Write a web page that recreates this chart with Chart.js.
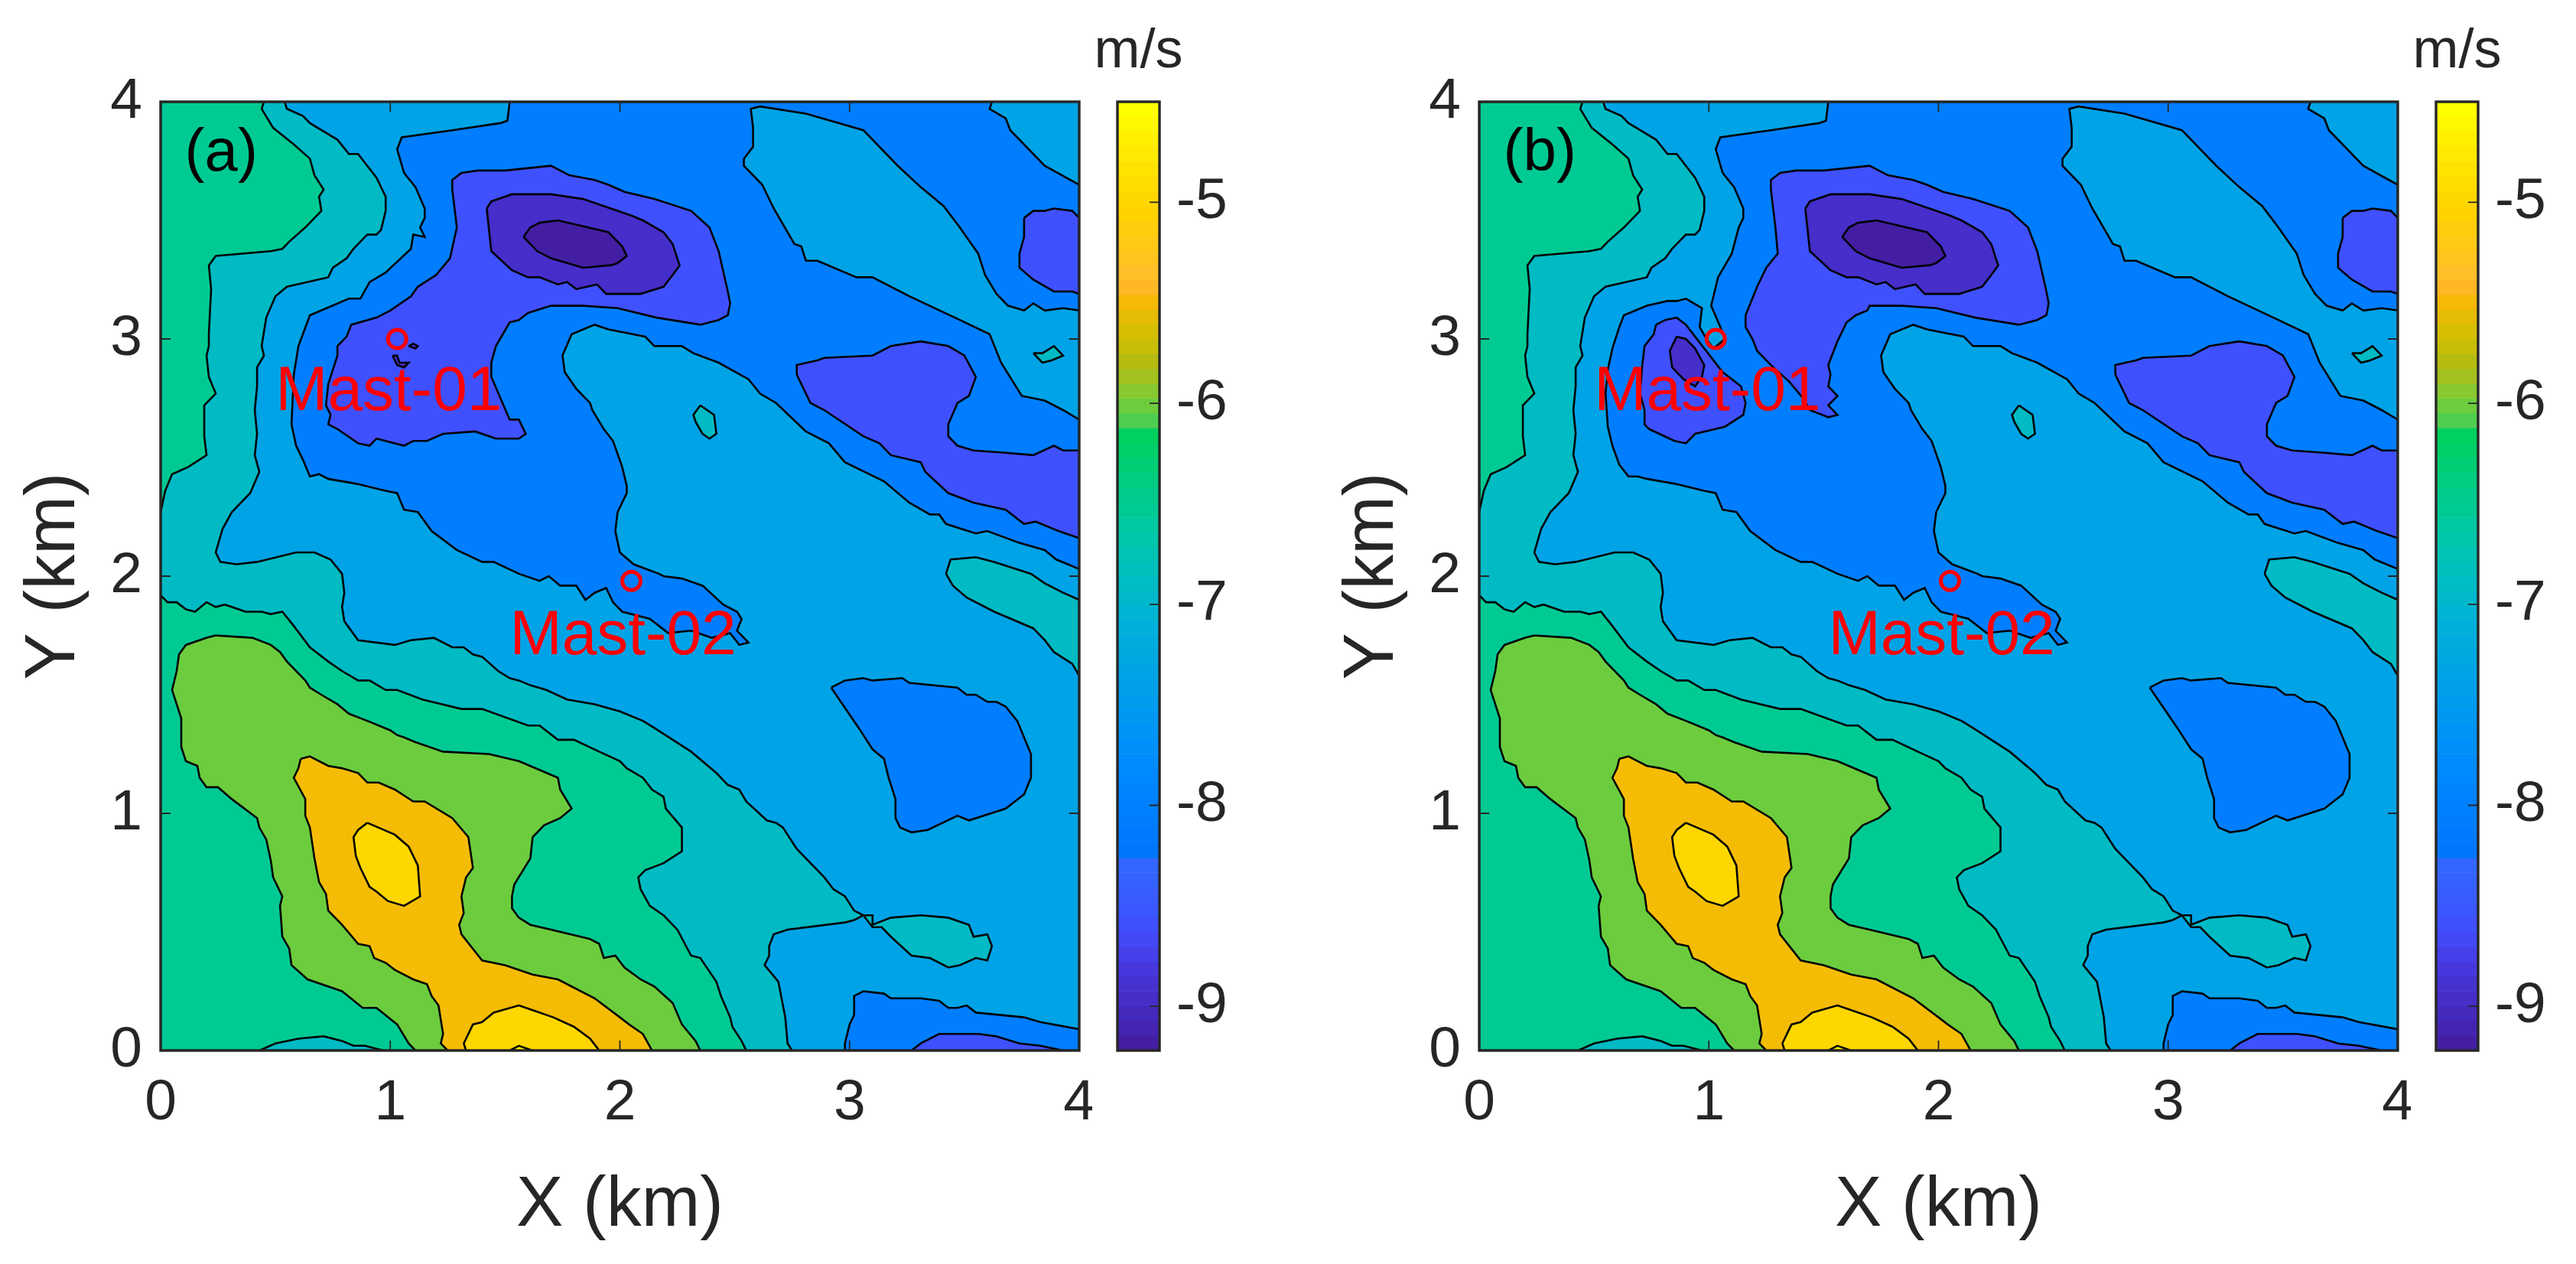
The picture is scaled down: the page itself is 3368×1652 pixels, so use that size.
<!DOCTYPE html>
<html lang="en">
<head>
<meta charset="UTF-8">
<title>Wind speed contours</title>
<script src="https://cdn.jsdelivr.net/npm/chart.js"></script>
<style>
  html, body { margin: 0; padding: 0; background: #fff; overflow: hidden; }
  body { width: 3368px; height: 1652px; position: relative; }
  canvas { position: absolute; top: 0; }
  #panelA { left: 0; }
  #barA { left: 1420px; }
  #panelB { left: 1724px; }
  #barB { left: 3144px; }
</style>
</head>
<body>
<canvas id="panelA" width="1428" height="1652"></canvas>
<canvas id="barA" width="224" height="1652"></canvas>
<canvas id="panelB" width="1428" height="1652"></canvas>
<canvas id="barB" width="224" height="1652"></canvas>

<script>
// contour outlines, [x km, y km]
const tealMain = [[0.54,4],[0.55,3.97],[0.62,3.94],[0.65,3.91],[0.77,3.84],[0.82,3.78],[0.86,3.78],[0.90,3.73],[0.94,3.68],[0.98,3.60],[0.98,3.54],[0.96,3.46],[0.94,3.44],[0.90,3.44],[0.84,3.38],[0.81,3.34],[0.75,3.30],[0.73,3.26],[0.55,3.22],[0.50,3.18],[0.46,3.09],[0.44,2.97],[0.45,2.93],[0.42,2.88],[0.42,2.80],[0.41,2.70],[0.42,2.60],[0.41,2.51],[0.43,2.44],[0.39,2.35],[0.31,2.27],[0.27,2.20],[0.24,2.10],[0.26,2.06],[0.33,2.05],[0.42,2.06],[0.59,2.10],[0.67,2.10],[0.74,2.07],[0.79,2.01],[0.80,1.93],[0.79,1.87],[0.80,1.81],[0.86,1.73],[1.02,1.71],[1.09,1.73],[1.19,1.74],[1.27,1.70],[1.32,1.70],[1.36,1.67],[1.40,1.66],[1.47,1.60],[1.52,1.57],[1.56,1.56],[1.61,1.54],[1.68,1.52],[1.77,1.48],[1.89,1.46],[2.00,1.43],[2.10,1.39],[2.15,1.36],[2.31,1.26],[2.42,1.17],[2.47,1.12],[2.52,1.10],[2.55,1.05],[2.64,0.97],[2.68,0.96],[2.71,0.94],[2.77,0.85],[2.89,0.73],[2.93,0.68],[2.98,0.65],[3.02,0.59],[3.06,0.57],[3.02,0.55],[2.98,0.54],[2.73,0.51],[2.67,0.49],[2.65,0.44],[2.65,0.40],[2.63,0.36],[2.69,0.29],[2.72,0.14],[2.73,0.03],[2.75,0],[0,0],[0,4]];
const tealLobe = [[3.06,0.57],[3.10,0.57],[3.10,0.53],[3.18,0.56],[3.31,0.57],[3.43,0.56],[3.52,0.53],[3.54,0.48],[3.60,0.49],[3.62,0.44],[3.60,0.38],[3.55,0.39],[3.48,0.36],[3.43,0.35],[3.35,0.39],[3.27,0.40],[3.18,0.48],[3.14,0.52],[3.10,0.52]];
const tealIslandA = [[2.35,2.72],[2.41,2.68],[2.42,2.60],[2.39,2.58],[2.36,2.60],[2.33,2.65],[2.32,2.68]];
const tealIslandB = [[3.80,2.94],[3.84,2.94],[3.89,2.97],[3.93,2.93],[3.88,2.91],[3.84,2.90]];
const tealRight = [[3.42,2.01],[3.44,2.07],[3.55,2.08],[3.63,2.06],[3.79,2.01],[3.85,1.97],[3.93,1.93],[4,1.90],[4,1.58],[3.97,1.63],[3.89,1.68],[3.85,1.73],[3.80,1.78],[3.63,1.85],[3.51,1.91],[3.45,1.96]];
const tealBottom = [[0.43,0],[0.50,0.03],[0.60,0.05],[0.71,0.06],[0.79,0.04],[0.84,0.02],[0.89,0.02],[0.97,0]];
const greenTop = [[0,4],[0.45,4],[0.44,3.97],[0.49,3.89],[0.58,3.82],[0.65,3.76],[0.67,3.69],[0.71,3.63],[0.69,3.60],[0.70,3.54],[0.63,3.47],[0.56,3.41],[0.53,3.38],[0.48,3.37],[0.24,3.35],[0.21,3.31],[0.22,3.21],[0.21,3.02],[0.21,2.97],[0.20,2.93],[0.21,2.84],[0.24,2.77],[0.19,2.72],[0.19,2.59],[0.20,2.51],[0.12,2.46],[0.05,2.43],[0.02,2.36],[0,2.27]];
const greenMain = [[0,1.92],[0.03,1.89],[0.07,1.89],[0.11,1.86],[0.15,1.85],[0.20,1.89],[0.24,1.87],[0.28,1.88],[0.37,1.85],[0.44,1.85],[0.48,1.84],[0.53,1.85],[0.58,1.79],[0.65,1.70],[0.73,1.64],[0.79,1.60],[0.86,1.56],[0.91,1.56],[0.98,1.52],[1.03,1.52],[1.14,1.48],[1.31,1.44],[1.40,1.44],[1.60,1.37],[1.65,1.37],[1.73,1.31],[1.80,1.31],[1.91,1.26],[2.00,1.22],[2.03,1.19],[2.10,1.15],[2.14,1.10],[2.19,1.07],[2.20,1.02],[2.27,0.94],[2.27,0.84],[2.19,0.79],[2.11,0.76],[2.08,0.73],[2.09,0.68],[2.13,0.61],[2.19,0.57],[2.25,0.51],[2.31,0.40],[2.35,0.39],[2.42,0.29],[2.44,0.23],[2.48,0.14],[2.49,0.10],[2.53,0.04],[2.55,0],[0,0]];
const limeMain = [[0.24,1.75],[0.40,1.74],[0.48,1.71],[0.52,1.68],[0.55,1.64],[0.63,1.56],[0.65,1.53],[0.70,1.50],[0.77,1.46],[0.82,1.42],[0.90,1.39],[1.00,1.35],[1.03,1.33],[1.06,1.32],[1.11,1.30],[1.23,1.26],[1.43,1.25],[1.56,1.22],[1.73,1.15],[1.74,1.10],[1.79,1.02],[1.74,0.98],[1.67,0.95],[1.62,0.90],[1.61,0.81],[1.54,0.70],[1.53,0.65],[1.53,0.60],[1.56,0.56],[1.61,0.53],[1.70,0.51],[1.87,0.47],[1.91,0.45],[1.93,0.39],[1.98,0.40],[2.02,0.35],[2.09,0.30],[2.15,0.27],[2.23,0.20],[2.27,0.11],[2.33,0.04],[2.35,0],[1.11,0],[1.08,0.03],[1.03,0.11],[0.94,0.18],[0.88,0.18],[0.79,0.25],[0.64,0.30],[0.57,0.36],[0.56,0.43],[0.53,0.48],[0.52,0.61],[0.53,0.65],[0.49,0.73],[0.48,0.80],[0.46,0.89],[0.43,0.94],[0.42,0.98],[0.31,1.06],[0.25,1.11],[0.20,1.11],[0.17,1.15],[0.16,1.20],[0.11,1.22],[0.09,1.28],[0.09,1.40],[0.05,1.52],[0.07,1.60],[0.08,1.67],[0.11,1.71],[0.20,1.74]];
const orangeMain = [[0.61,1.23],[0.65,1.24],[0.73,1.20],[0.79,1.19],[0.86,1.17],[0.90,1.13],[0.95,1.13],[1.02,1.10],[1.10,1.05],[1.15,1.05],[1.27,0.98],[1.34,0.90],[1.36,0.77],[1.33,0.73],[1.31,0.65],[1.32,0.58],[1.30,0.53],[1.31,0.49],[1.40,0.38],[1.50,0.36],[1.62,0.32],[1.73,0.30],[1.89,0.22],[2.00,0.14],[2.04,0.11],[2.10,0.07],[2.14,0],[1.25,0],[1.22,0.03],[1.23,0.07],[1.21,0.19],[1.18,0.23],[1.16,0.28],[1.10,0.30],[1.02,0.34],[0.98,0.37],[0.93,0.39],[0.91,0.44],[0.86,0.45],[0.79,0.53],[0.73,0.59],[0.72,0.66],[0.69,0.71],[0.67,0.81],[0.65,0.94],[0.63,0.99],[0.63,1.06],[0.58,1.15],[0.60,1.19]];
const yellowA = [[0.90,0.96],[1.02,0.91],[1.08,0.86],[1.12,0.78],[1.13,0.65],[1.06,0.61],[0.99,0.63],[0.94,0.67],[0.91,0.69],[0.87,0.77],[0.85,0.82],[0.84,0.90],[0.86,0.93]];
const yellowB = [[1.32,0.03],[1.36,0.11],[1.40,0.12],[1.45,0.16],[1.56,0.19],[1.62,0.17],[1.71,0.14],[1.80,0.10],[1.87,0.05],[1.91,0],[1.33,0]];
const yellowTip = [[1.52,0],[1.56,0.02],[1.62,0]];
const blueTop = [[1.52,4],[1.51,3.92],[1.48,3.91],[1.27,3.88],[1.05,3.85],[1.03,3.80],[1.06,3.70],[1.11,3.64],[1.15,3.55],[1.15,3.51],[1.13,3.47]];
const blueWestA = [[1.15,3.43],[1.10,3.44],[1.09,3.38],[0.98,3.28],[0.91,3.24],[0.87,3.17],[0.82,3.17],[0.65,3.10],[0.60,2.97],[0.58,2.85],[0.57,2.64],[0.59,2.55],[0.62,2.49],[0.65,2.42],[0.69,2.43]];
const blueWestB = [[1.10,3.36],[1.04,3.26],[1.01,3.14],[1.05,3.05],[1.07,3.00],[1.02,2.96],[0.99,3.00],[0.96,3.05],[0.97,3.13],[0.90,3.17],[0.86,3.16],[0.82,3.16],[0.73,3.14],[0.63,3.10],[0.61,3.05],[0.58,2.96],[0.56,2.87],[0.55,2.77],[0.56,2.63],[0.58,2.55],[0.61,2.47],[0.65,2.42],[0.69,2.42]];
const blueRest = [[0.73,2.41],[0.85,2.39],[0.98,2.36],[1.03,2.35],[1.06,2.28],[1.12,2.27],[1.18,2.19],[1.29,2.11],[1.40,2.06],[1.45,2.06],[1.56,2.01],[1.65,1.98],[1.69,2.00],[1.74,1.96],[1.81,1.96],[1.85,1.90],[1.89,1.93],[1.94,1.95],[1.97,1.89],[2.01,1.85],[2.13,1.82],[2.21,1.76],[2.31,1.77],[2.40,1.74],[2.48,1.76],[2.52,1.71],[2.56,1.72],[2.51,1.77],[2.53,1.82],[2.51,1.85],[2.45,1.88],[2.36,1.96],[2.27,1.99],[2.19,2.00],[2.17,2.01],[2.06,2.05],[2.00,2.10],[1.98,2.19],[1.99,2.27],[2.03,2.35],[2.03,2.38],[2.01,2.46],[1.97,2.57],[1.93,2.62],[1.88,2.70],[1.87,2.73],[1.81,2.79],[1.76,2.86],[1.75,2.93],[1.79,3.02],[1.89,3.06],[1.95,3.04],[2.11,3.01],[2.15,2.97],[2.27,2.97],[2.32,2.94],[2.43,2.90],[2.56,2.83],[2.61,2.77],[2.68,2.73],[2.81,2.61],[2.91,2.56],[2.98,2.48],[3.15,2.40],[3.26,2.31],[3.35,2.26],[3.39,2.26],[3.42,2.22],[3.55,2.18],[3.60,2.19],[3.74,2.14],[3.85,2.11],[3.90,2.07],[4,2.03],[4,2.66],[3.93,2.70],[3.85,2.74],[3.75,2.76],[3.66,2.90],[3.61,3.02],[3.48,3.08],[3.26,3.18],[3.10,3.26],[3.03,3.26],[2.86,3.33],[2.81,3.33],[2.79,3.39],[2.76,3.40],[2.67,3.55],[2.62,3.65],[2.54,3.73],[2.54,3.76],[2.58,3.81],[2.58,3.89],[2.57,3.97],[2.61,3.98],[2.81,3.95],[3.06,3.88],[3.21,3.73],[3.31,3.64],[3.41,3.56],[3.48,3.47],[3.56,3.36],[3.59,3.27],[3.64,3.19],[3.69,3.14],[3.76,3.12],[3.80,3.15],[3.85,3.12],[3.93,3.13],[4,3.12],[4,3.65],[3.85,3.73],[3.70,3.88],[3.68,3.93],[3.61,3.97],[3.62,4]];
const blueIsland = [[2.92,1.53],[2.98,1.56],[3.06,1.57],[3.10,1.56],[3.23,1.57],[3.26,1.55],[3.47,1.53],[3.51,1.50],[3.55,1.50],[3.60,1.47],[3.64,1.47],[3.68,1.45],[3.73,1.39],[3.79,1.25],[3.79,1.15],[3.76,1.08],[3.68,1.02],[3.52,0.97],[3.47,0.99],[3.34,0.93],[3.27,0.92],[3.22,0.94],[3.20,0.98],[3.20,1.06],[3.17,1.15],[3.15,1.23],[3.10,1.27],[3.04,1.36]];
const blueBottom = [[2.98,0],[2.98,0.03],[3.00,0.11],[3.02,0.15],[3.02,0.23],[3.06,0.25],[3.15,0.24],[3.18,0.22],[3.31,0.22],[3.39,0.21],[3.43,0.18],[3.47,0.18],[3.51,0.19],[3.55,0.16],[3.76,0.14],[3.83,0.12],[4,0.09],[4,0]];
const indigoTop = [[1.29,3.47],[1.27,3.63],[1.27,3.67],[1.31,3.70],[1.38,3.71],[1.50,3.71],[1.70,3.73],[1.78,3.69],[1.89,3.67],[1.95,3.65],[2.02,3.62],[2.15,3.59],[2.31,3.54],[2.39,3.47],[2.43,3.37],[2.47,3.20],[2.48,3.15],[2.47,3.10],[2.43,3.08],[2.35,3.06],[2.16,3.09],[1.99,3.13],[1.84,3.14],[1.70,3.14]];
const indigoTailA = [[1.60,3.11],[1.56,3.08],[1.52,3.07],[1.46,2.97],[1.44,2.90],[1.44,2.84],[1.52,2.66],[1.56,2.66],[1.59,2.60],[1.56,2.58],[1.46,2.58],[1.37,2.61],[1.23,2.60],[1.16,2.57],[1.10,2.57],[1.06,2.55],[0.94,2.58],[0.91,2.55],[0.86,2.56],[0.77,2.62],[0.73,2.64],[0.74,2.68],[0.72,2.72],[0.73,2.81],[0.77,2.93],[0.77,2.97],[0.81,3.01],[0.83,3.06],[0.94,3.09],[1.00,3.12],[1.09,3.18],[1.12,3.22],[1.20,3.27],[1.26,3.34]];
const indigoTailB = [[1.69,3.12],[1.64,3.10],[1.60,3.07],[1.56,2.99],[1.52,2.89],[1.53,2.85],[1.52,2.80],[1.56,2.76],[1.52,2.72],[1.56,2.68],[1.52,2.67],[1.44,2.70],[1.41,2.75],[1.35,2.82],[1.27,2.89],[1.21,2.95],[1.19,3.00],[1.16,3.05],[1.16,3.10],[1.21,3.22],[1.25,3.30],[1.30,3.36]];
const indigoWestB = [[0.77,3.06],[0.81,3.08],[0.86,3.09],[0.90,3.06],[0.98,2.96],[1.06,2.86],[1.14,2.80],[1.16,2.73],[1.15,2.68],[1.07,2.63],[0.94,2.60],[0.90,2.56],[0.85,2.57],[0.74,2.62],[0.72,2.64],[0.72,2.70],[0.70,2.77],[0.71,2.89],[0.72,2.97],[0.76,3.02]];
const indigoEast = [[2.77,2.85],[2.77,2.89],[2.86,2.91],[2.89,2.92],[3.10,2.93],[3.18,2.97],[3.31,2.99],[3.43,2.97],[3.50,2.93],[3.55,2.84],[3.52,2.76],[3.47,2.73],[3.43,2.64],[3.43,2.59],[3.47,2.55],[3.54,2.53],[3.68,2.52],[3.80,2.51],[3.89,2.55],[3.93,2.53],[4,2.53],[4,2.16],[3.91,2.19],[3.81,2.23],[3.76,2.22],[3.68,2.28],[3.54,2.31],[3.43,2.35],[3.33,2.44],[3.31,2.48],[3.18,2.51],[3.13,2.56],[3.06,2.59],[2.89,2.70],[2.83,2.73]];
const indigoNE = [[3.76,3.51],[3.80,3.54],[3.85,3.54],[3.89,3.55],[3.97,3.54],[4,3.51],[4,3.19],[3.97,3.20],[3.89,3.20],[3.80,3.25],[3.74,3.30],[3.74,3.36],[3.76,3.43]];
const indigoBottom = [[3.27,0],[3.31,0.03],[3.39,0.07],[3.47,0.07],[3.56,0.07],[3.64,0.06],[3.74,0.03],[3.83,0.02],[3.93,0]];
const violetMain = [[1.42,3.55],[1.44,3.58],[1.53,3.61],[1.70,3.61],[1.84,3.59],[2.05,3.52],[2.10,3.50],[2.19,3.45],[2.23,3.40],[2.26,3.31],[2.23,3.27],[2.19,3.22],[2.09,3.19],[1.99,3.19],[1.94,3.19],[1.90,3.23],[1.81,3.21],[1.77,3.24],[1.73,3.23],[1.65,3.26],[1.60,3.26],[1.53,3.29],[1.44,3.37],[1.43,3.46]];
const violetWestB = [[0.86,3.01],[0.90,3.00],[0.94,2.96],[0.98,2.89],[0.97,2.84],[0.94,2.80],[0.89,2.83],[0.84,2.88],[0.83,2.95]];
const violetSpeckA = [[1.08,2.97],[1.10,2.98],[1.12,2.97],[1.11,2.96]];
const violetSpeckB = [[1.01,2.93],[1.03,2.93],[1.04,2.90],[1.08,2.90],[1.06,2.88],[1.03,2.89]];
const darkMain = [[1.58,3.43],[1.61,3.47],[1.65,3.49],[1.73,3.50],[1.95,3.45],[2.01,3.39],[2.03,3.35],[1.99,3.32],[1.96,3.31],[1.95,3.31],[1.84,3.30],[1.70,3.34],[1.64,3.37]];

const plotSquare = [[0,0],[4,0],[4,4],[0,4]];

// masts and labels
const mastX = [1.03, 2.05];
const mastY = [3.00, 1.98];
const mastNames = ['Mast-01', 'Mast-02'];
const mastLabelX = [0.50, 1.52];
const mastLabelY = [2.70, 1.67];

// colorbar, top to bottom
const colorbarEdges = [-4.5,-4.574,-4.648,-4.721,-4.795,-4.869,-4.943,-5.016,-5.09,-5.164,-5.238,-5.311,-5.385,-5.459,-5.533,-5.606,-5.68,-5.754,-5.828,-5.901,-5.975,-6.049,-6.123,-6.196,-6.27,-6.344,-6.418,-6.491,-6.565,-6.639,-6.713,-6.786,-6.86,-6.934,-7.008,-7.081,-7.155,-7.229,-7.303,-7.376,-7.45,-7.524,-7.598,-7.671,-7.745,-7.819,-7.893,-7.966,-8.04,-8.114,-8.188,-8.261,-8.335,-8.409,-8.483,-8.556,-8.63,-8.704,-8.778,-8.851,-8.925,-8.999,-9.073,-9.146,-9.22];
const colorbarColors = ['#FFFF00','#FFF700','#FFF000','#FFE900','#FFE300','#FFDD00','#FFD700','#FFD200','#FFCD0C','#FFC916','#FFC41E','#FFBF26','#FFB824',
  '#F5BA05','#E4BB05','#D6BE05','#C8BE08','#B4BC12','#A4C01E','#88C830','#6CCC3E','#4ECE4E',
  '#00D05E','#00CF68','#00CE74','#00CD80','#00CB8C','#00CA94','#00C8A0','#00C6AA','#00C3B4','#00C0BC','#00BCC4','#00B8CC','#00B4D4','#00B0DA','#00ACDE','#00A8E2','#00A4E6','#00A0EA','#009CEE','#0098F2','#0094F6','#0090FA','#008CFC','#0088FF','#0084FF','#0080FF','#007EFF','#007AFF','#0076FF',
  '#3266FF','#3561FF','#385CFF','#3B57FF','#3F51FF','#4349F6','#4640EA','#4738DD','#4632D0','#462EC8','#4529BC','#4424B0','#431EA2'];

const INK = '#262626';
const FONT = 'Arial, "Liberation Sans", sans-serif';
const SKY = '#00A3E6', TEAL = '#00BAC4', GREEN = '#00CA94', LIME = '#6CCC3E', ORANGE = '#F5BC05',
      YELLOW = '#FFD700', BLUE = '#007EFF', INDIGO = '#3F51FF', VIOLET = '#452EC9', DARK = '#431EA2';

function poly(points, color, lined = true) {
  const closed = points.concat([points[0]]);
  return {
    data: closed.map(p => ({ x: p[0], y: p[1] })),
    showLine: true,
    fill: 'shape',
    backgroundColor: color,
    borderColor: lined ? '#000' : color,
    borderWidth: lined ? 2.6 : 0,
    pointRadius: 0,
    tension: 0
  };
}

// box and inward ticks, MATLAB style
const frame = {
  id: 'frame',
  afterDatasetsDraw(chart) {
    const { ctx, chartArea: a, scales } = chart;
    ctx.save();
    ctx.strokeStyle = INK;
    ctx.lineWidth = 1.8;
    ctx.beginPath();
    if (scales.x.type === 'linear') {
      scales.x.ticks.forEach(t => {
        const px = scales.x.getPixelForValue(t.value);
        ctx.moveTo(px, a.bottom); ctx.lineTo(px, a.bottom - 13);
        ctx.moveTo(px, a.top); ctx.lineTo(px, a.top + 13);
      });
      scales.y.ticks.forEach(t => {
        const py = scales.y.getPixelForValue(t.value);
        ctx.moveTo(a.left, py); ctx.lineTo(a.left + 13, py);
        ctx.moveTo(a.right, py); ctx.lineTo(a.right - 13, py);
      });
    } else {
      scales.y.ticks.forEach(t => {
        const py = scales.y.getPixelForValue(t.value);
        ctx.moveTo(a.right, py); ctx.lineTo(a.right - 13, py);
      });
    }
    ctx.stroke();
    ctx.lineWidth = 3.4;
    ctx.strokeRect(a.left, a.top, a.right - a.left, a.bottom - a.top);
    ctx.restore();
  }
};

const panelText = {
  id: 'panelText',
  afterDraw(chart, args, opts) {
    const { ctx, scales } = chart;
    ctx.save();
    ctx.textAlign = 'left';
    ctx.textBaseline = 'alphabetic';
    ctx.font = '78px ' + FONT;
    ctx.fillStyle = '#000';
    ctx.fillText(opts.tag, scales.x.getPixelForValue(0.105), scales.y.getPixelForValue(3.71));
    ctx.font = '82px ' + FONT;
    ctx.fillStyle = '#FF0000';
    mastNames.forEach((name, i) => {
      ctx.fillText(name, scales.x.getPixelForValue(mastLabelX[i]), scales.y.getPixelForValue(mastLabelY[i]));
    });
    ctx.restore();
  }
};

const unitText = {
  id: 'unitText',
  afterDraw(chart) {
    const { ctx, chartArea: a } = chart;
    ctx.save();
    ctx.font = '72px ' + FONT;
    ctx.fillStyle = INK;
    ctx.textAlign = 'center';
    ctx.textBaseline = 'alphabetic';
    ctx.fillText('m/s', (a.left + a.right) / 2, 88);
    ctx.restore();
  }
};

function drawPanel(id, tag, layers) {
  const mastSet = {
    data: mastX.map((x, i) => ({ x: x, y: mastY[i] })),
    showLine: false,
    pointRadius: 12,
    pointBorderWidth: 5,
    pointBorderColor: '#FF0000',
    pointBackgroundColor: 'rgba(0,0,0,0)'
  };
  // chart.js paints the first dataset last
  const sets = [mastSet].concat(layers.slice().reverse());
  new Chart(document.getElementById(id), {
    type: 'scatter',
    data: { datasets: sets },
    options: {
      responsive: false,
      animation: false,
      layout: { padding: { top: 133, right: 0, left: 0, bottom: 0 } },
      plugins: {
        legend: { display: false },
        tooltip: { enabled: false },
        panelText: { tag: tag }
      },
      scales: {
        x: {
          type: 'linear', min: 0, max: 4,
          afterFit(s) { s.height = 279; s.paddingLeft = 0; s.paddingRight = 0; },
          grid: { display: false, drawTicks: false },
          border: { display: false },
          ticks: { stepSize: 1, color: INK, padding: 24, font: { family: FONT, size: 75 }, maxRotation: 0 },
          title: { display: true, text: 'X (km)', color: INK, font: { family: FONT, size: 92 }, padding: { top: 0, bottom: 20 } }
        },
        y: {
          type: 'linear', min: 0, max: 4,
          afterFit(s) { s.width = 210; s.paddingTop = 0; s.paddingBottom = 0; },
          grid: { display: false, drawTicks: false },
          border: { display: false },
          ticks: { stepSize: 1, color: INK, padding: 24, font: { family: FONT, size: 75 } },
          title: { display: true, text: 'Y (km)', color: INK, font: { family: FONT, size: 92 }, padding: { top: 16, bottom: 0 } }
        }
      }
    },
    plugins: [frame, panelText]
  });
}

function drawColorbar(id) {
  const sets = colorbarColors.map((c, i) => ({
    data: [[colorbarEdges[i + 1], colorbarEdges[i]]],
    backgroundColor: c,
    borderWidth: 0,
    barPercentage: 1,
    categoryPercentage: 1,
    grouped: false
  }));
  new Chart(document.getElementById(id), {
    type: 'bar',
    data: { labels: ['m/s'], datasets: sets },
    options: {
      responsive: false,
      animation: false,
      layout: { padding: { top: 133, bottom: 279, left: 41, right: 0 } },
      plugins: { legend: { display: false }, tooltip: { enabled: false } },
      scales: {
        x: { display: false },
        y: {
          position: 'right',
          min: -9.22, max: -4.5,
          afterBuildTicks(s) { s.ticks = [-5, -6, -7, -8, -9].map(v => ({ value: v })); },
          afterFit(s) { s.width = 128; s.paddingTop = 0; s.paddingBottom = 0; },
          grid: { display: false, drawTicks: false },
          border: { display: false },
          ticks: { color: INK, padding: 22, font: { family: FONT, size: 75 } }
        }
      }
    },
    plugins: [frame, unitText]
  });
}

const lowerLayers = [
  poly(plotSquare, SKY, false),
  poly(tealMain, TEAL), poly(tealLobe, TEAL), poly(tealRight, TEAL),
  poly(greenTop, GREEN), poly(greenMain, GREEN), poly(tealBottom, TEAL),
  poly(limeMain, LIME), poly(orangeMain, ORANGE),
  poly(yellowA, YELLOW), poly(yellowB, YELLOW), poly(yellowTip, '#FFEE00')
];
const sideLayers = [
  poly(tealIslandA, TEAL), poly(tealIslandB, TEAL),
  poly(blueIsland, BLUE), poly(blueBottom, BLUE),
  poly(indigoEast, INDIGO), poly(indigoNE, INDIGO), poly(indigoBottom, INDIGO)
];

drawPanel('panelA', '(a)', lowerLayers.concat(
  [poly(blueTop.concat(blueWestA, blueRest), BLUE)],
  sideLayers,
  [poly(indigoTop.concat(indigoTailA), INDIGO),
   poly(violetMain, VIOLET), poly(darkMain, DARK),
   poly(violetSpeckA, VIOLET), poly(violetSpeckB, VIOLET)]
));

drawPanel('panelB', '(b)', lowerLayers.concat(
  [poly(blueTop.concat(blueWestB, blueRest), BLUE)],
  sideLayers,
  [poly(indigoTop.concat(indigoTailB), INDIGO),
   poly(indigoWestB, INDIGO), poly(violetWestB, VIOLET),
   poly(violetMain, VIOLET), poly(darkMain, DARK)]
));

drawColorbar('barA');
drawColorbar('barB');
</script>
</body>
</html>
